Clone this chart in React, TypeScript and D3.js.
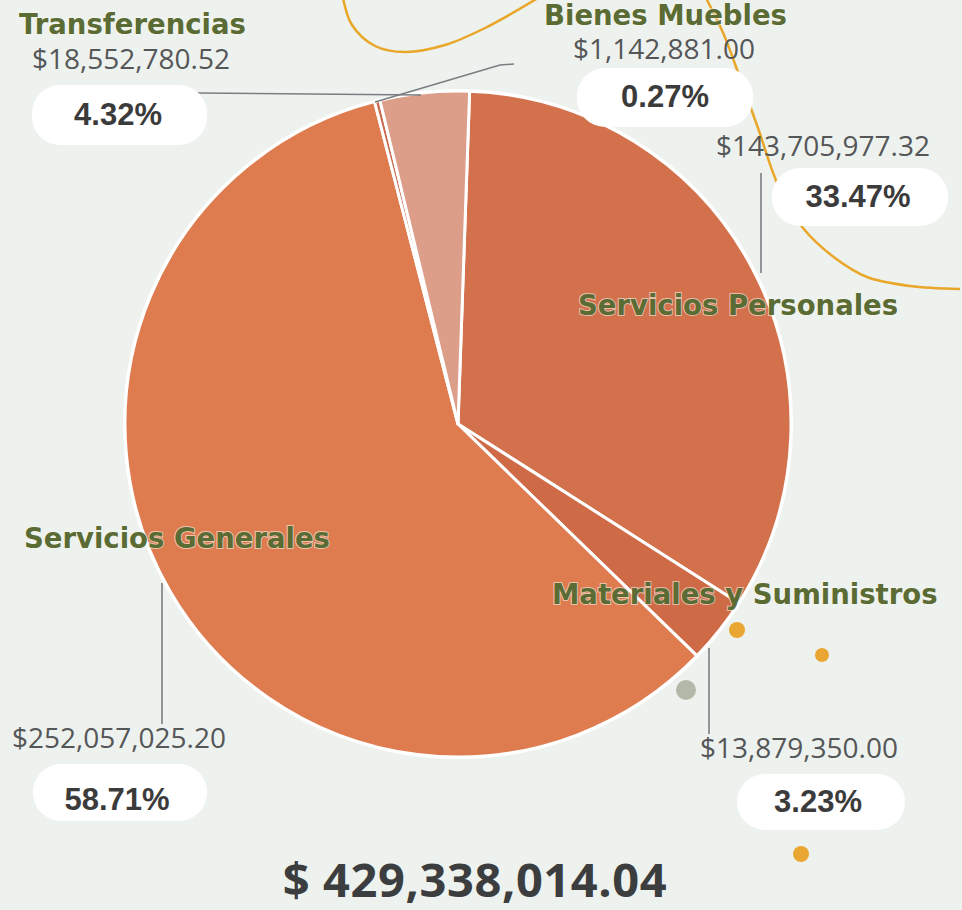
import React from "react";
import * as d3 from "d3";

const categories = [
  "Servicios Personales",
  "Materiales y Suministros",
  "Servicios Generales",
  "Bienes Muebles",
  "Transferencias",
];
const amounts = [143705977.32, 13879350.0, 252057025.2, 1142881.0, 18552780.52];
const sliceColors = ["#d3714c", "#cf6a47", "#de7c4f", "#c96a4c", "#dc9d89"];

const W = 962;
const H = 910;

// layout of the annotation blocks (label, amount, pill, leader)
const layout = [
  { name: [578, 315], amt: [716, 156], pill: [772, 168, 176, 58], pct: [858, 207], leader: [[761, 173], [761, 273]] },
  { name: [552, 604], amt: [700, 758], pill: [737, 774, 168, 56], pct: [818, 812], leader: [[709, 648], [709, 734]] },
  { name: [24, 548], amt: [12, 748], pill: [33, 764, 174, 57], pct: [117, 810], leader: [[162, 583], [162, 724]] },
  { name: [544, 25], amt: [573, 59], pill: [577, 68, 176, 59], pct: [665, 107], leader: [[514, 64], [500, 65], [375, 102]] },
  { name: [19, 34], amt: [32, 69], pill: [32, 85, 175, 60], pct: [118, 125], leader: [[197, 93], [421, 95]] },
];

export default function App() {
  const cx = 458;
  const cy = 424;
  const r = 333;
  const total = d3.sum(amounts);
  const offset = (2 * Math.PI) / 180;
  const pie = d3
    .pie<number>()
    .sort(null)
    .value((d) => d)
    .startAngle(offset)
    .endAngle(2 * Math.PI + offset);
  const arcs = pie(amounts);
  const arc = d3.arc<d3.PieArcDatum<number>>().innerRadius(0).outerRadius(r);
  const fmtAmt = d3.format("$,.2f");
  const fmtPct = d3.format(".2%");
  const fmtTot = d3.format(",.2f");
  const line = d3.line();
  const curve = d3.line().curve(d3.curveCatmullRom);

  const curve1: [number, number][] = [
    [343, -2], [352, 25], [375, 46], [405, 52], [445, 45], [485, 28], [538, -2],
  ];
  const curve2: [number, number][] = [
    [706, -2], [724, 35], [740, 78], [758, 128], [778, 185], [803, 228], [835, 258], [867, 277], [910, 286], [960, 289],
  ];

  const green = "#5a6b34";

  return (
    <svg
      width={W}
      height={H}
      style={{ position: "absolute", left: 0, top: 0 }}
      xmlns="http://www.w3.org/2000/svg"
    >
      <rect x={0} y={0} width={W} height={H} fill="#eef2ef" />
      <path d={curve(curve1) || ""} fill="none" stroke="#e9a628" strokeWidth={2.5} />
      <path d={curve(curve2) || ""} fill="none" stroke="#e9a628" strokeWidth={2.5} />
      <circle cx={737} cy={630} r={8} fill="#eaa633" />
      <circle cx={822} cy={655} r={7} fill="#eaa633" />
      <circle cx={801} cy={854} r={8} fill="#eaa633" />
      <circle cx={686} cy={690} r={10} fill="#b4b8a9" />

      <g transform={`translate(${cx},${cy})`}>
        <circle r={r + 2} fill="#ffffff" />
        {arcs.map((a, i) => (
          <path key={i} d={arc(a) || ""} fill={sliceColors[i]} stroke="#ffffff" strokeWidth={3} strokeLinejoin="round" />
        ))}
      </g>

      {layout.map((l, i) => (
        <g key={i}>
          <path d={line(l.leader as [number, number][]) || ""} fill="none" stroke="#7a7d80" strokeWidth={1.6} />
          <rect x={l.pill[0]} y={l.pill[1]} width={l.pill[2]} height={l.pill[3]} rx={28} fill="#ffffff" />
          <text
            x={l.pct[0]}
            y={l.pct[1]}
            textAnchor="middle"
            fontFamily="'Liberation Sans', Arial, sans-serif"
            fontWeight="bold"
            fontSize={31}
            fill="#3b3b3b"
          >
            {fmtPct(amounts[i] / total)}
          </text>
          <text
            x={l.amt[0]}
            y={l.amt[1]}
            fontFamily="'Open Sans', sans-serif"
            fontSize={28}
            fill="#555658"
          >
            {fmtAmt(amounts[i])}
          </text>
          <text
            x={l.name[0]}
            y={l.name[1]}
            fontFamily="'DejaVu Sans', sans-serif"
            fontWeight="bold"
            fontSize={27.5}
            fill={green}
            stroke="#f4f4ea"
            strokeWidth={2}
            strokeOpacity={0.6}
            paintOrder="stroke"
          >
            {categories[i]}
          </text>
        </g>
      ))}

      <text
        x={475}
        y={897}
        textAnchor="middle"
        fontFamily="'Open Sans', sans-serif"
        fontWeight="bold"
        fontSize={47}
        letterSpacing={0.6}
        fill="#3c3d3e"
      >
        {"$ " + fmtTot(total)}
      </text>
    </svg>
  );
}
